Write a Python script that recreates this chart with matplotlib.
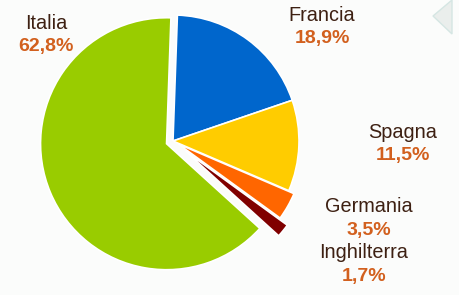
import matplotlib.pyplot as plt
from matplotlib.patches import Polygon

# dati (quote in %)
paesi = ["Francia", "Spagna", "Germania", "Inghilterra", "Italia"]
quote = [18.9, 11.5, 3.5, 1.7, 62.8]
etichette = ["18,9%", "11,5%", "3,5%", "1,7%", "62,8%"]
colori = ["#0066cc", "#ffcc00", "#ff6600", "#800000", "#99cc00"]
stacco = [0, 0, 6, 16, 7]   # in pixel (explode e' in unita' dati)

# posizioni delle scritte (pixel, origine in alto a sinistra)
pos_testo = [(322, 15), (403, 132), (369, 207), (364, 253), (46, 23)]

W, H = 460, 295
fig = plt.figure(figsize=(W / 100, H / 100), dpi=100)
fig.patch.set_facecolor("#fbfcfb")
ax = fig.add_axes([0, 0, 1, 1])

# piccolo decoro in alto a destra
ax.add_patch(Polygon([(452, H), (433, H - 16), (452, H - 34)], closed=True,
                     facecolor="#eaeeec", edgecolor="#d5e6e3", lw=1))

ax.pie(quote, colors=colori, explode=stacco, startangle=88, counterclock=False,
       center=(173, H - 141), radius=126, frame=True,
       wedgeprops=dict(edgecolor="white", linewidth=1.2))
ax.set_xlim(0, W)
ax.set_ylim(0, H)
ax.set_aspect("equal")
ax.axis("off")

for nome, et, (x, y) in zip(paesi, etichette, pos_testo):
    ax.text(x, H - y, nome, ha="center", va="center", fontsize=14.3,
            family="Liberation Sans", color="#3d2012")
    ax.text(x, H - y - 23, et, ha="center", va="center", fontsize=14,
            family="Liberation Sans", fontweight="bold", color="#d2601e")

fig.savefig("out.png", dpi=100, facecolor=fig.get_facecolor())
